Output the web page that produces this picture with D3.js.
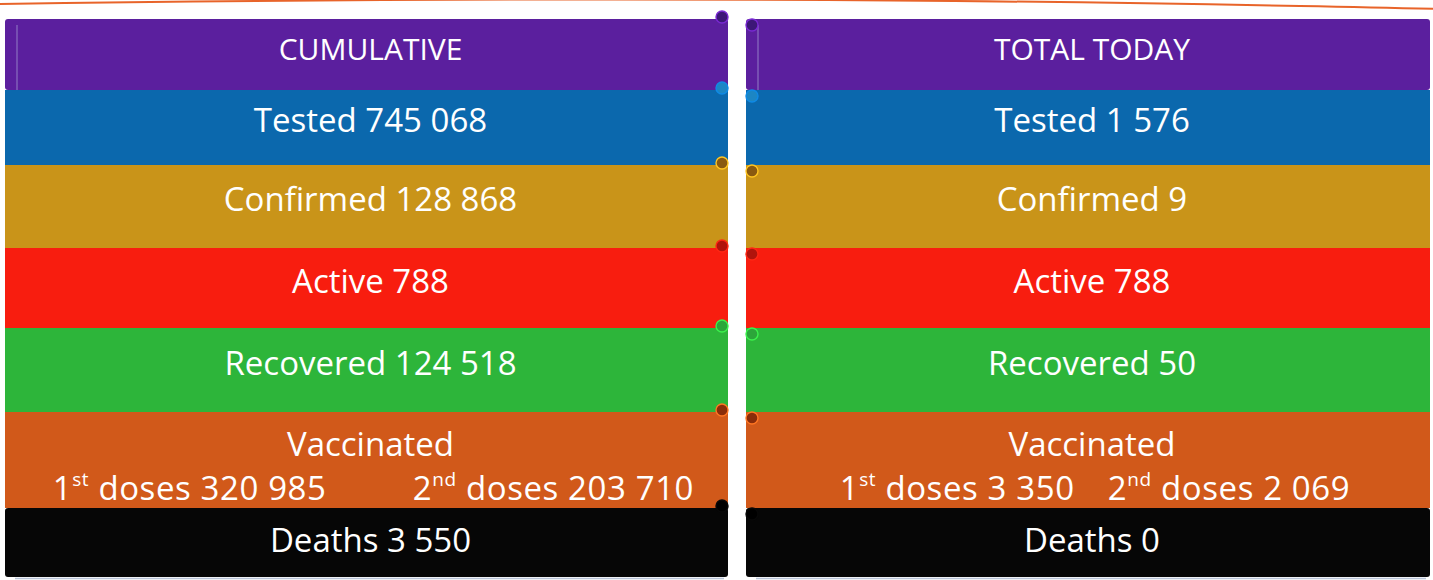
<!DOCTYPE html>
<html>
<head>
<meta charset="utf-8">
<script src="https://cdn.jsdelivr.net/npm/d3@7"></script>
<style>
  body { margin: 0; background: #fff; }
  text { font-family: "Open Sans", "Noto Sans", sans-serif; fill: #fff; }
</style>
</head>
<body>
<div id="chart"></div>
<script>
// ---- data ----
const panelTitles = ["CUMULATIVE", "TOTAL TODAY"];
const rowLabels = ["Tested", "Confirmed", "Active", "Recovered", "Vaccinated", "Deaths"];
const cumulativeValues = ["745 068", "128 868", "788", "124 518", null, "3 550"];
const todayValues = ["1 576", "9", "788", "50", null, "0"];
const firstDoses = ["320 985", "3 350"];
const secondDoses = ["203 710", "2 069"];
const rowColors = ["#5b1f9e", "#0b68ad", "#c99419", "#f81d0f", "#2db53a", "#d1591a", "#060606"];
const curlColors = ["#3c1777", "#1c86c4", "#8a5a10", "#b0140c", "#2ca63a", "#8a2d0a", "#000"];

// row boundaries (pixels)
const rowEdges = [19, 90, 165, 248, 328, 412, 508, 577];

const W = 1433, H = 580;
const svg = d3.select("#chart").append("svg")
    .attr("width", W).attr("height", H);

const panels = [
  { x0: 5, x1: 728, title: panelTitles[0], values: cumulativeValues, side: "right" },
  { x0: 746, x1: 1430, title: panelTitles[1], values: todayValues, side: "left" }
];

// orange scroll outline at the top
svg.append("path")
    .attr("d", "M0,4 Q700,-6 1300,6 T1433,20")
    .attr("fill", "none")
    .attr("stroke", "#e8642a")
    .attr("stroke-width", 2);

panels.forEach((p, pi) => {
  const g = svg.append("g");
  const x = d3.scaleLinear().domain([0, 1]).range([p.x0, p.x1]);
  const cx = x(0.5);

  // bands
  g.selectAll("rect.band")
    .data(rowColors)
    .join("rect")
    .attr("class", "band")
    .attr("x", x(0))
    .attr("y", (d, i) => rowEdges[i])
    .attr("width", x(1) - x(0))
    .attr("height", (d, i) => rowEdges[i + 1] - rowEdges[i])
    .attr("rx", (d, i) => (i === 0 || i === rowColors.length - 1) ? 3 : 0)
    .attr("fill", d => d);

  // thin roll line on the purple band
  g.append("line")
    .attr("x1", x(0) + 12).attr("x2", x(0) + 12)
    .attr("y1", rowEdges[0] + 6).attr("y2", rowEdges[1])
    .attr("stroke", "#8a6fc0").attr("stroke-width", 1.2);

  // curls at band tops
  const curlX = p.side === "right" ? x(1) - 6 : x(0) + 6;
  g.selectAll("circle.curl")
    .data(curlColors)
    .join("circle")
    .attr("class", "curl")
    .attr("cx", curlX)
    .attr("cy", (d, i) => rowEdges[i] + (p.side === "left" ? 6 : -2))
    .attr("r", 6)
    .attr("fill", d => d)
    .attr("stroke", (d, i) => d3.color(rowColors[i]).brighter(0.8))
    .attr("stroke-width", 1.4);

  // title
  const mid = i => (rowEdges[i] + rowEdges[i + 1]) / 2;
  g.append("text")
    .attr("x", cx + 4).attr("y", mid(0) - 3)
    .attr("text-anchor", "middle").attr("dominant-baseline", "middle")
    .attr("font-size", 30)
    .text(p.title);

  rowLabels.forEach((lab, i) => {
    const r = i + 1;
    if (lab === "Vaccinated") {
      g.append("text")
        .attr("x", cx + 4).attr("y", rowEdges[r] + 35)
        .attr("text-anchor", "middle").attr("dominant-baseline", "middle")
        .attr("font-size", 33)
        .text(lab);
      const dy = rowEdges[r] + 79;
      const pos = pi === 0 ? [x(0.066), x(0.564)] : [x(0.137), x(0.529)];
      const sup = ["st", "nd"];
      const vals = [firstDoses[pi], secondDoses[pi]];
      [0, 1].forEach(k => {
        const t = g.append("text")
          .attr("x", pos[k]).attr("y", dy)
          .attr("dominant-baseline", "middle")
          .attr("font-size", 33)
          .attr("letter-spacing", 0.6);
        t.append("tspan").text(k + 1);
        t.append("tspan").attr("font-size", 19).attr("dy", -10).text(sup[k]);
        t.append("tspan").attr("dy", 10).text(" doses " + vals[k]);
      });
    } else {
      g.append("text")
        .attr("x", cx + 4).attr("y", mid(r) - (r === 6 ? -1 : 4))
        .attr("text-anchor", "middle").attr("dominant-baseline", "middle")
        .attr("font-size", 33)
        .text(lab + " " + p.values[i]);
    }
  });

  // pale line under the black band
  g.append("line")
    .attr("x1", x(0) + 10).attr("x2", x(1) - 4)
    .attr("y1", rowEdges[7] + 1.5).attr("y2", rowEdges[7] + 1.5)
    .attr("stroke", "#b8c4d8").attr("stroke-width", 1.5);
});
</script>
</body>
</html>
